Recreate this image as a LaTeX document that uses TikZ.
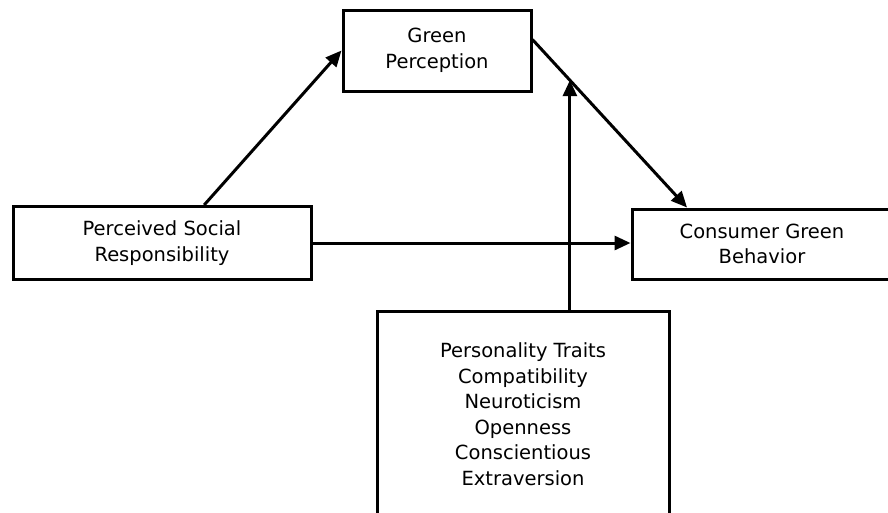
\documentclass[tikz,border=0pt]{standalone}
\usepackage{fontspec}
\setmainfont{DejaVu Sans}
\usetikzlibrary{arrows.meta,calc}
\begin{document}
\begin{tikzpicture}[x=1pt,y=-1pt,
  box/.style={draw=black,line width=3pt,fill=white,inner sep=0pt,align=center,
    font=\fontsize{19.5}{25.5}\selectfont},
  conn/.style={line width=3pt,-{Triangle[length=16pt,width=14pt]}}]
\useasboundingbox (0,0) rectangle (888,512);
\clip (0,0) rectangle (888,512);
\fill[white] (0,0) rectangle (888,512);
\node[box,minimum width=188pt,minimum height=81pt] (gp) at (437,50.5) {Green\\Perception};
\node[box,minimum width=298pt,minimum height=73pt] (psr) at (162,243) {Perceived Social\\Responsibility};
\node[box,minimum width=260pt,minimum height=70pt] (cgb) at (762,244) {Consumer Green\\Behavior};
\node[box,minimum width=292pt,minimum height=206pt] (pt) at (523,414)
  {Personality Traits\\Compatibility\\Neuroticism\\Openness\\Conscientious\\Extraversion};
\coordinate (gpout) at ($(gp.north east)!0.37!(gp.south east)$);
\coordinate (cgbin) at ($(cgb.north west)!0.215!(cgb.north east)$);
\coordinate (mod) at ($(gpout)!0.242!(cgbin)$);
\draw[conn] ($(psr.north west)!0.64!(psr.north east)$) -- (gp.west);
\draw[conn] (gpout) -- (cgbin);
\draw[conn] (psr.east) -- (psr.east -| cgb.west);
\draw[conn] (mod |- pt.north) -- (mod);
\end{tikzpicture}
\end{document}
